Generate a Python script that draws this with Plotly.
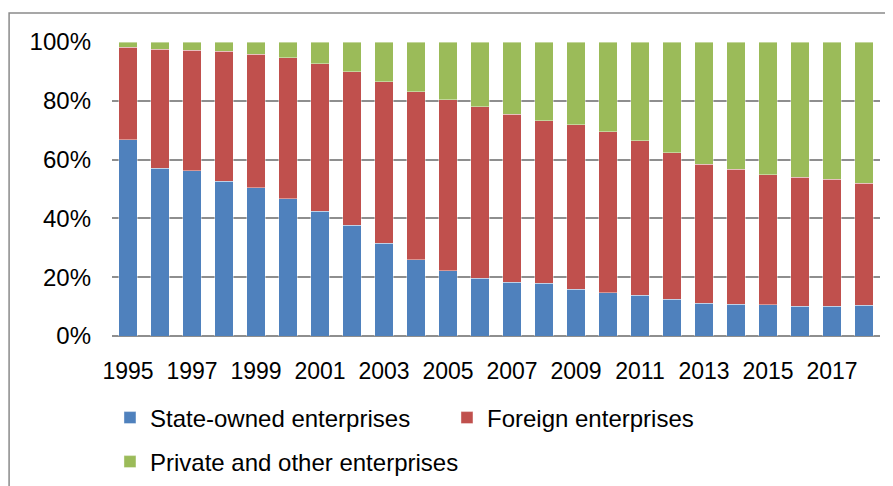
import plotly.graph_objects as go

years = list(range(1995, 2019))

# cumulative tops (%)
state_owned = [66.8, 57.0, 56.2, 52.7, 50.5, 46.7, 42.5, 37.7, 31.5, 25.9, 22.2, 19.6,
               18.3, 17.9, 15.9, 14.7, 13.9, 12.5, 11.1, 10.8, 10.6, 10.2, 10.2, 10.4]
state_plus_foreign = [98.3, 97.6, 97.2, 96.8, 95.9, 94.6, 92.6, 89.9, 86.4, 83.0, 80.4, 77.9,
                      75.4, 73.2, 71.8, 69.4, 66.4, 62.3, 58.5, 56.8, 54.8, 54.0, 53.3, 51.9]

foreign = [round(t - s, 1) for t, s in zip(state_plus_foreign, state_owned)]
private = [round(100 - t, 1) for t in state_plus_foreign]

fam = "Liberation Sans, Arial, sans-serif"
font = dict(family=fam, size=24, color="black")
xfont = dict(family=fam, size=23, color="black")
edge = dict(color="rgba(255,255,255,0.5)", width=0.8)

fig = go.Figure()
fig.add_trace(go.Bar(x=years, y=state_owned, name="State-owned enterprises",
                     marker=dict(color="#4F81BD", line=edge), legend="legend"))
fig.add_trace(go.Bar(x=years, y=foreign, name="Foreign enterprises",
                     marker=dict(color="#C0504D", line=edge), legend="legend"))
fig.add_trace(go.Bar(x=years, y=private, name="Private and other enterprises",
                     marker=dict(color="#9BBB59", line=edge), legend="legend2"))

# the page body adds 8px offset, so margins are shifted to compensate
fig.update_layout(
    barmode="stack",
    bargap=0.41,
    width=893, height=486,
    margin=dict(l=104, r=21, t=34, b=158),
    plot_bgcolor="white", paper_bgcolor="white",
    font=font,
    legend=dict(orientation="h", xref="container", yref="container",
                x=0.1142, xanchor="left", y=0.1564, yanchor="middle",
                entrywidth=292, entrywidthmode="pixels", font=font,
                traceorder="normal", bgcolor="rgba(0,0,0,0)"),
    legend2=dict(orientation="h", xref="container", yref="container",
                 x=0.1142, xanchor="left", y=0.0658, yanchor="middle",
                 font=font, bgcolor="rgba(0,0,0,0)"),
    shapes=[dict(type="path", xref="paper", yref="paper",
                 path="M -0.134,-0.6 L -0.134,1.0986 L 1.05,1.0986",
                 line=dict(color="#8a8a8a", width=1.5))],
)

fig.update_xaxes(range=[1994.5, 2018.5], tick0=1995, dtick=2, showgrid=False,
                 ticks="", tickfont=xfont, showline=False, ticklabelstandoff=19)
fig.update_yaxes(range=[0, 100], dtick=20, ticksuffix="%", showgrid=True,
                 gridcolor="#8e8e8e", gridwidth=2, zeroline=True, zerolinecolor="#8e8e8e",
                 zerolinewidth=2, ticks="", tickfont=font, ticklabelstandoff=20)

fig.write_html("out.html")
